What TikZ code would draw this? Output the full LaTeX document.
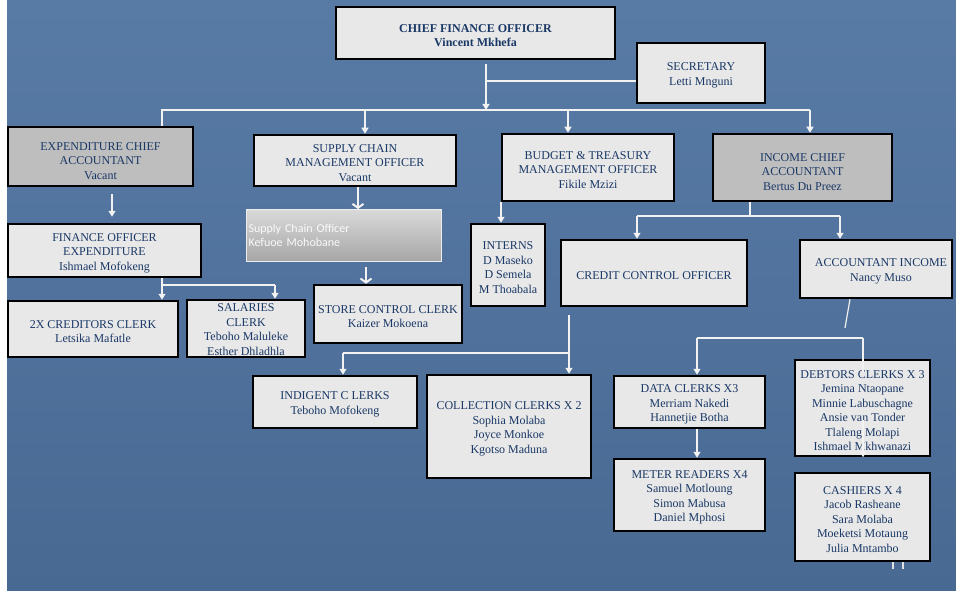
\documentclass[tikz,border=0pt]{standalone}
\usepackage{fontspec}
\setmainfont{Liberation Serif}
\newfontfamily\calfont{Carlito}
\usetikzlibrary{arrows.meta}
\definecolor{bgtop}{RGB}{88,123,166}
\definecolor{bgbot}{RGB}{72,105,146}
\definecolor{navy}{RGB}{26,56,102}
\definecolor{boxlight}{RGB}{232,232,232}
\definecolor{boxdark}{RGB}{190,190,190}
\definecolor{linewhite}{RGB}{242,242,242}
\definecolor{scotop}{RGB}{218,218,218}
\definecolor{scobot}{RGB}{165,165,165}
% extra room above the first line of a box text
\newcommand\toppad[1][13pt]{\rule{0pt}{#1}}

\begin{document}
\begin{tikzpicture}[x=1pt,y=-1pt,
  orgbox/.style={draw=black, line width=2.5pt, fill=boxlight, text=navy, align=center,
                 inner sep=0pt, font=\fontsize{12}{14.5}\selectfont},
  darkbox/.style={orgbox, fill=boxdark},
  wl/.style={draw=linewhite, line width=1.2pt},
  arr/.style={wl, -{Triangle[length=6pt,width=7pt]}},
  barb/.style={draw=linewhite, line width=2pt, -{Straight Barb[length=4pt,width=11pt]}},
]
% page and backdrop
\fill[white] (0,0) rectangle (956,591);
\shade[top color=bgtop, bottom color=bgbot] (7,0) rectangle (956,591);
\clip (0,0) rectangle (956,591);

% ---------- boxes ----------
\node[orgbox, minimum width=279pt, minimum height=52pt] (cfo) at (475.5,33)
  {\toppad\textbf{CHIEF FINANCE OFFICER}\\\textbf{Vincent Mkhefa}};
\node[orgbox, minimum width=128pt, minimum height=60pt] (sec) at (701,73)
  {\toppad SECRETARY\\Letti Mnguni};

\node[darkbox, minimum width=185pt, minimum height=59pt] (exp) at (100.5,156.5)
  {\toppad[17pt]EXPENDITURE CHIEF\\ACCOUNTANT\\Vacant};
\node[orgbox, minimum width=202pt, minimum height=51pt] (scm) at (355,160.5)
  {\toppad SUPPLY CHAIN\\MANAGEMENT  OFFICER\\Vacant};
\node[orgbox, minimum width=172pt, minimum height=67pt] (bud) at (588,167.5)
  {\toppad BUDGET \& TREASURY\\MANAGEMENT  OFFICER\\Fikile  Mzizi};
\node[darkbox, minimum width=179pt, minimum height=67pt] (inc) at (802.5,167.5)
  {\toppad[17pt]INCOME CHIEF\\ACCOUNTANT\\Bertus  Du Preez};

\node[orgbox, minimum width=193pt, minimum height=53pt] (fin) at (104.5,250.5)
  {\toppad FINANCE OFFICER\\EXPENDITURE\\Ishmael Mofokeng};
\node[shade, top color=scotop, bottom color=scobot, draw=white!85!gray, line width=0.8pt,
      minimum width=195pt, minimum height=52pt, inner sep=2pt, text width=191pt, align=left,
      text=white!96!gray, font=\calfont\fontsize{12}{13.5}\selectfont] (sco) at (344,235.5)
  {Supply Chain Officer\\Kefuoe Mohobane};
\node[orgbox, minimum width=148pt, minimum height=58pt] (sto) at (388,314)
  {\toppad STORE  CONTROL  CLERK\\Kaizer  Mokoena};
\node[orgbox, minimum width=74pt, minimum height=82pt] (int) at (508,265)
  {\toppad INTERNS\\D Maseko\\D Semela\\M Thoabala};
\node[orgbox, minimum width=186pt, minimum height=66pt] (cco) at (654,273)
  {\toppad CREDIT CONTROL OFFICER};
\node[orgbox, minimum width=152pt, minimum height=58pt] (acc) at (876,269)
  {\toppad\hspace*{10pt}ACCOUNTANT INCOME\\\hspace*{10pt}Nancy Muso};

\node[orgbox, minimum width=170pt, minimum height=56pt] (cre) at (93,329)
  {\toppad 2X CREDITORS CLERK\\Letsika Mafatle};
\node[orgbox, minimum width=118pt, minimum height=57pt] (sal) at (246,328.5)
  {\toppad[10.5pt]SALARIES\\CLERK\\Teboho Maluleke\\Esther Dhladhla};

\node[orgbox, minimum width=164pt, minimum height=52pt] (ind) at (335,402)
  {\toppad INDIGENT C LERKS\\Teboho Mofokeng};
\node[orgbox, minimum width=164pt, minimum height=103pt] (col) at (509,426.5)
  {\toppad COLLECTION  CLERKS X 2\\Sophia Molaba\\Joyce Monkoe\\Kgotso Maduna};
\node[orgbox, minimum width=151pt, minimum height=52pt] (dat) at (689.5,402)
  {\toppad DATA CLERKS X3\\Merriam  Nakedi\\Hannetjie  Botha};
\node[orgbox, minimum width=151pt, minimum height=72pt] (met) at (689.5,495)
  {\toppad METER READERS X4\\Samuel  Motloung\\Simon  Mabusa\\Daniel  Mphosi};
\node[orgbox, minimum width=135pt, minimum height=96pt] (deb) at (862.5,408)
  {\toppad DEBTORS CLERKS X 3\\Jemina  Ntaopane\\Minnie  Labuschagne\\Ansie van Tonder\\Tlaleng  Molapi\\Ishmael  Mkhwanazi};
\node[orgbox, minimum width=135pt, minimum height=88pt] (cas) at (862.5,517)
  {\toppad CASHIERS X 4\\Jacob Rasheane\\Sara Molaba\\Moeketsi Motaung\\Julia  Mntambo};

% ---------- connectors ----------
% chief finance officer to the first tier
\coordinate (busL) at (162,110);
\coordinate (busR) at (810,110);
\coordinate (secJ) at (486,81);
\draw[arr] ([xshift=10.5pt,yshift=-4pt]cfo.south) -- ([xshift=10.5pt]cfo.south |- busL);
\draw[wl] (secJ) -- (sec.west |- secJ);
\draw[wl] (exp.north -| busL) -- (busL) -- (busR);
\draw[arr] ([xshift=10pt]scm.north |- busL) -- ([xshift=10pt]scm.north);
\draw[arr] ([xshift=-20pt]bud.north |- busL) -- ([xshift=-20pt]bud.north);
\draw[arr] (busR) -- (inc.north -| busR);

% expenditure branch
\draw[arr, shorten >=6pt] ([xshift=11.5pt,yshift=-7pt]exp.south) -- ([xshift=11.5pt]exp.south |- fin.north);
\coordinate (finJ) at (162,285);
\draw[wl] (fin.south -| finJ) -- (finJ) -- ([xshift=29pt]sal.north |- finJ);
\draw[arr] (finJ) -- (cre.north -| finJ);
\draw[arr] ([xshift=29pt]sal.north |- finJ) -- ([xshift=29pt]sal.north);

% supply chain branch
\draw[barb] ([xshift=3pt]scm.south) -- ([xshift=3pt]scm.south |- sco.north);
\draw[barb] ([xshift=22pt,yshift=-5pt]sco.south) -- ([xshift=22pt]sco.south |- sto.north);

% budget branch
\draw[arr] ([xshift=-87pt]bud.south) -- ([xshift=-87pt]bud.south |- int.north);

% income branch
\coordinate (incJ) at (750,216);
\draw[wl] (inc.south -| incJ) -- (incJ);
\draw[wl] ([xshift=-17pt]cco.north |- incJ) -- ([xshift=-36pt]acc.north |- incJ);
\draw[arr] ([xshift=-17pt]cco.north |- incJ) -- ([xshift=-17pt]cco.north);
\draw[arr] ([xshift=-36pt]acc.north |- incJ) -- ([xshift=-36pt]acc.north);

% credit control branch
\coordinate (ccoJ) at (569,353);
\draw[arr] ([xshift=-85pt,yshift=-8pt]cco.south) -- ([xshift=-85pt]cco.south |- col.north);
\draw[wl] (ccoJ) -- ([xshift=8pt]ind.north |- ccoJ);
\draw[arr] ([xshift=8pt]ind.north |- ccoJ) -- ([xshift=8pt]ind.north);

% accountant income branch
\coordinate (accEnd) at (845,328);
\coordinate (datJ) at (697,338);
\coordinate (debJ) at (863,338);
\draw[wl] ([xshift=-26pt]acc.south) -- (accEnd);
\draw[wl] (datJ) -- (debJ);
\draw[arr] (datJ) -- (dat.north -| datJ);
\draw[arr, dash pattern=on 34pt off 48pt on 60pt] (debJ) -- (deb.south -| debJ);
\draw[arr] (dat.south -| datJ) -- (met.north -| datJ);

% stubs under the cashiers box
\draw[draw=linewhite!85!gray, line width=1.6pt] ([xshift=30.5pt]cas.south) -- ++(0,7);
\draw[draw=linewhite!85!gray, line width=1.6pt] ([xshift=40.5pt]cas.south) -- ++(0,7);
\end{tikzpicture}
\end{document}
